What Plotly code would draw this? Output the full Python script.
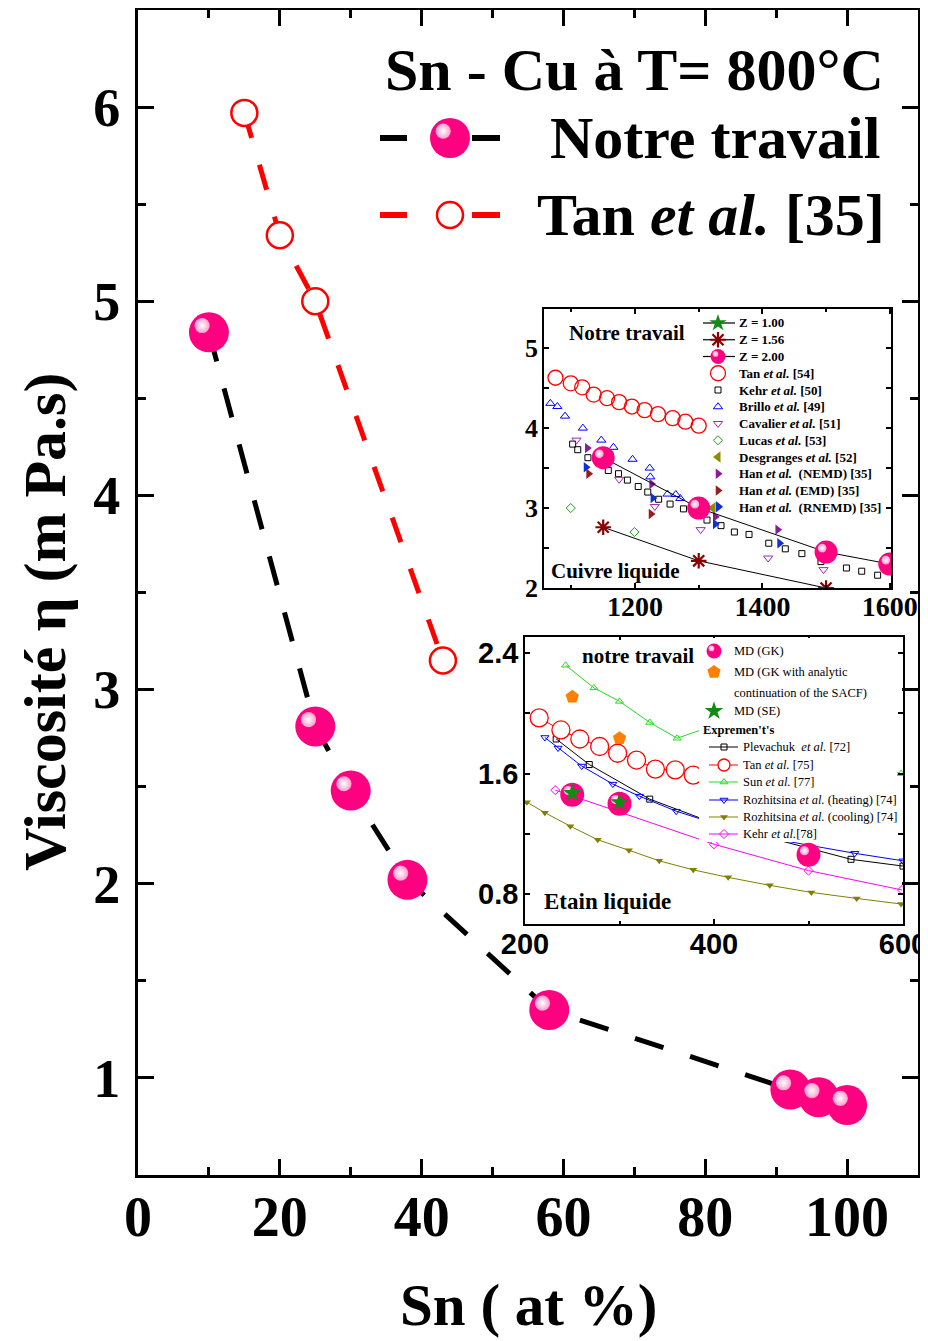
import plotly.graph_objects as go

W, H = 928, 1341
OFF = 8                      # browser body margin
FW, FH = W - OFF, H - OFF    # figure size
SERIF = "Liberation Serif"
SANS = "Liberation Sans"
PINK = "#FF0080"

# ---------------- main chart data (Sn - Cu, 800 °C)
sn_notre = [10, 25, 30, 38, 58, 92, 96, 100]
eta_notre = [4.84, 2.81, 2.48, 2.02, 1.35, 0.94, 0.90, 0.86]
sn_tan = [15, 20, 25, 43]
eta_tan = [5.97, 5.34, 5.00, 3.15]

# ---------------- inset 1 : liquid copper
cu_z2_T = [1150, 1300, 1500, 1600]
cu_z2_v = [3.63, 3.00, 2.45, 2.30]
cu_z156_T = [1150, 1300, 1500]
cu_z156_v = [2.76, 2.34, 2.00]
cu_tan_T = [1075, 1099, 1117, 1135, 1156, 1175, 1195, 1215, 1236, 1259, 1279, 1300]
cu_tan_v = [4.63, 4.56, 4.51, 4.42, 4.375, 4.325, 4.27, 4.225, 4.175, 4.125, 4.08, 4.03]
cu_kehr_T = [1102, 1110, 1126, 1158, 1174, 1188, 1205, 1220, 1237, 1255, 1276, 1313,
             1335, 1356, 1379, 1410, 1436, 1462, 1492, 1532, 1556, 1581]
cu_kehr_v = [3.80, 3.73, 3.63, 3.47, 3.43, 3.35, 3.27, 3.20, 3.11, 3.05, 2.99, 2.85,
             2.78, 2.70, 2.67, 2.56, 2.49, 2.43, 2.33, 2.25, 2.21, 2.16]
cu_brillo_T = [1067, 1078, 1090, 1118, 1147, 1166, 1196, 1223, 1224, 1251, 1264, 1271]
cu_brillo_v = [4.31, 4.27, 4.15, 4.00, 3.85, 3.76, 3.61, 3.50, 3.39, 3.175, 3.17, 3.12]
cu_cav_T = [1108, 1175, 1231, 1303, 1409, 1496]
cu_cav_v = [3.85, 3.36, 3.02, 2.73, 2.375, 2.23]
cu_lucas_T = [1099, 1199]
cu_lucas_v = [3.00, 2.70]
cu_desg_T = [1322]
cu_desg_v = [3.00]
cu_nemd_T = [1125, 1226, 1326, 1424]
cu_nemd_v = [3.75, 3.30, 2.89, 2.73]
cu_emd_T = [1127, 1225]
cu_emd_v = [3.43, 2.925]
cu_rnemd_T = [1123, 1228, 1326, 1331, 1427]
cu_rnemd_v = [3.51, 3.125, 2.80, 3.02, 2.56]

# ---------------- inset 2 : liquid tin
sn_gk_T = [250, 300, 500]
sn_gk_v = [1.46, 1.40, 1.06]
sn_gka_T = [250, 300]
sn_gka_v = [2.11, 1.835]
sn_se_T = [250, 300]
sn_se_v = [1.47, 1.41]
sn_plev_T = [233, 268, 332, 400, 545, 600]
sn_plev_v = [1.83, 1.66, 1.43, 1.27, 1.03, 0.985]
sn_tan_T = [215, 238, 258, 279, 298, 318, 338, 359, 378]
sn_tan_v = [1.97, 1.89, 1.83, 1.78, 1.735, 1.69, 1.63, 1.625, 1.59]
sn_sun_T = [243, 273, 300, 332, 361, 400, 598]
sn_sun_v = [2.32, 2.17, 2.08, 1.94, 1.835, 1.92, 1.60]
sn_rh_T = [221, 235, 260, 293, 321, 360, 400, 450, 549, 600]
sn_rh_v = [1.84, 1.77, 1.65, 1.53, 1.45, 1.35, 1.27, 1.18, 1.07, 1.02]
sn_rc_T = [202, 221, 248, 277, 310, 342, 378, 415, 459, 503, 551, 598]
sn_rc_v = [1.41, 1.34, 1.25, 1.16, 1.09, 1.02, 0.96, 0.91, 0.857, 0.81, 0.77, 0.733]
sn_kehr_T = [232, 400, 500, 599]
sn_kehr_v = [1.49, 1.13, 0.955, 0.826]

# ---------------- layout geometry (screen pixels)
MAIN_X, MAIN_Y = (138, 918), (10, 1175)
CU_X, CU_Y = (544, 891), (309, 588)
SN_X, SN_Y = (525, 903), (637, 924)
MAIN_XR, MAIN_YR = [0, 110], [0.5, 6.5]
CU_XR, CU_YR = [1057, 1602], [2, 5.49]
SN_XR, SN_YR = [200, 600], [0.6, 2.508]


def px(x):
    return (x - OFF) / FW


def py(y):
    return 1 - (y - OFF) / FH


def dom_x(d):
    return [px(d[0]), px(d[1])]


def dom_y(d):
    return [py(d[1]), py(d[0])]


def upp(rng, dom):
    return (rng[1] - rng[0]) / (dom[1] - dom[0])


fig = go.Figure()


def tr(**kw):
    kw.setdefault("hoverinfo", "skip")
    kw.setdefault("showlegend", False)
    fig.add_trace(go.Scatter(**kw))


def sphere(xs, ys, xa, ya, size, ux, uy):
    o = size * 0.17
    tr(x=xs, y=ys, xaxis=xa, yaxis=ya, mode="markers",
       marker=dict(size=size, color=PINK, line=dict(width=0)))
    tr(x=[v - o * ux for v in xs], y=[v + o * uy for v in ys], xaxis=xa, yaxis=ya,
       mode="markers",
       marker=dict(size=size * 0.38, color="#FF9CCB", line=dict(width=0),
                   gradient=dict(type="radial", color="white")))


# ---------------- main traces
mux, muy = upp(MAIN_XR, MAIN_X), upp(MAIN_YR, MAIN_Y)
tr(x=sn_tan, y=eta_tan, xaxis="x", yaxis="y", mode="lines+markers",
   line=dict(color="red", width=5, dash="26px,28px"),
   marker=dict(symbol="circle", size=26, color="white", line=dict(color="red", width=2.5)))
tr(x=sn_notre, y=eta_notre, xaxis="x", yaxis="y", mode="lines",
   line=dict(color="black", width=5, dash="30px,28px"))
sphere(sn_notre, eta_notre, "x", "y", 40, mux, muy)

# ---------------- inset 1 traces
cux, cuy = upp(CU_XR, CU_X), upp(CU_YR, CU_Y)
CU = [
    ("tan", cu_tan_T, cu_tan_v, dict(symbol="circle-open", size=15, color="red", line=dict(width=1.3))),
    ("kehr", cu_kehr_T, cu_kehr_v, dict(symbol="square-open", size=6, color="black", line=dict(width=1))),
    ("brillo", cu_brillo_T, cu_brillo_v, dict(symbol="triangle-up-open", size=8, color="blue", line=dict(width=1))),
    ("cav", cu_cav_T, cu_cav_v, dict(symbol="triangle-down-open", size=8, color="#9A2AB0", line=dict(width=1))),
    ("lucas", cu_lucas_T, cu_lucas_v, dict(symbol="diamond-open", size=7, color="#1A9A1A", line=dict(width=1))),
    ("desg", cu_desg_T, cu_desg_v, dict(symbol="triangle-left", size=10, color="#8C8C00", line=dict(width=0))),
    ("nemd", cu_nemd_T, cu_nemd_v, dict(symbol="triangle-right", size=9, color="#8B1A9B", line=dict(width=0))),
    ("emd", cu_emd_T, cu_emd_v, dict(symbol="triangle-right", size=9, color="#9B1B1B", line=dict(width=0))),
    ("rnemd", cu_rnemd_T, cu_rnemd_v, dict(symbol="triangle-right", size=9, color="#1030D0", line=dict(width=0))),
]
for _, xs, ys, mk in CU:
    tr(x=xs, y=ys, xaxis="x2", yaxis="y2", mode="markers", marker=mk)
ASTER = dict(symbol="asterisk-open", size=13, color="#8B0000", line=dict(width=2.2, color="#8B0000"))
tr(x=cu_z156_T, y=cu_z156_v, xaxis="x2", yaxis="y2", mode="lines+markers",
   line=dict(color="black", width=1), marker=ASTER)
tr(x=cu_z2_T, y=cu_z2_v, xaxis="x2", yaxis="y2", mode="lines",
   line=dict(color="black", width=1))
sphere(cu_z2_T, cu_z2_v, "x2", "y2", 23, cux, cuy)

# ---------------- inset 2 traces
snx, sny = upp(SN_XR, SN_X), upp(SN_YR, SN_Y)
SN = [
    (sn_plev_T, sn_plev_v, "black", dict(symbol="square-open", size=6, color="black", line=dict(width=1))),
    (sn_tan_T, sn_tan_v, "red", dict(symbol="circle", size=18, color="white", line=dict(width=1.3, color="red"))),
    (sn_sun_T, sn_sun_v, "#22DD22", dict(symbol="triangle-up-open", size=7, color="#22DD22", line=dict(width=1))),
    (sn_rh_T, sn_rh_v, "blue", dict(symbol="triangle-down-open", size=7, color="blue", line=dict(width=1))),
    (sn_rc_T, sn_rc_v, "#808000", dict(symbol="triangle-down", size=7, color="#808000", line=dict(width=0))),
    (sn_kehr_T, sn_kehr_v, "#FF00FF", dict(symbol="diamond-open", size=7, color="#FF00FF", line=dict(width=1))),
]
for xs, ys, c, mk in SN:
    tr(x=xs, y=ys, xaxis="x3", yaxis="y3", mode="lines+markers",
       line=dict(color=c, width=1), marker=mk)
PENT = dict(symbol="pentagon", size=14, color="#FF8000", line=dict(width=0))
STAR = dict(symbol="star", size=14, color="#138A13", line=dict(width=0))
tr(x=sn_gka_T, y=sn_gka_v, xaxis="x3", yaxis="y3", mode="markers", marker=PENT)
sphere(sn_gk_T, sn_gk_v, "x3", "y3", 24, snx, sny)
tr(x=sn_se_T, y=sn_se_v, xaxis="x3", yaxis="y3", mode="markers", marker=STAR)

# ---------------- legend glyphs (pixel overlay axis)
L = dict(xaxis="x4", yaxis="y4")
# main legend
tr(x=[380, 407, None, 472, 500], y=[138, 138, None, 138, 138], mode="lines",
   line=dict(color="black", width=6), **L)
sphere([450], [138], "x4", "y4", 40, 1, -1)
tr(x=[380, 407, None, 472, 500], y=[215, 215, None, 215, 215], mode="lines",
   line=dict(color="red", width=6), **L)
tr(x=[450], y=[215], mode="markers",
   marker=dict(symbol="circle", size=26, color="white", line=dict(color="red", width=2.5)), **L)

# inset 1 legend
cu_names = ["Z = 1.00", "Z = 1.56", "Z = 2.00",
            "Tan <i>et al.</i> [54]", "Kehr <i>et al.</i> [50]", "Brillo <i>et al.</i> [49]",
            "Cavalier <i>et al.</i> [51]", "Lucas <i>et al.</i> [53]", "Desgranges <i>et al.</i> [52]",
            "Han <i>et al.</i>  (NEMD) [35]", "Han <i>et al.</i> (EMD) [35]", "Han <i>et al.</i>  (RNEMD) [35]"]
cu_ly = [323 + i * 16.75 for i in range(len(cu_names))]
for i in range(3):
    tr(x=[703, 735], y=[cu_ly[i]] * 2, mode="lines", line=dict(color="black", width=1.2), **L)
tr(x=[718], y=[cu_ly[0]], mode="markers", marker=dict(symbol="star", size=13, color="#138A13"), **L)
tr(x=[718], y=[cu_ly[1]], mode="markers", marker=ASTER, **L)
sphere([718], [cu_ly[2]], "x4", "y4", 15, 1, -1)
for i, (_, _, _, mk) in enumerate(CU):
    tr(x=[718], y=[cu_ly[i + 3]], mode="markers", marker=mk, **L)

# inset 2 legend (white box)
tr(x=[699, 897, 897, 699, 699], y=[638, 638, 842, 842, 638], mode="lines", fill="toself",
   fillcolor="white", line=dict(width=0, color="white"), **L)
sphere([714], [651], "x4", "y4", 15, 1, -1)
tr(x=[714], y=[672], mode="markers", marker=PENT, **L)
tr(x=[714], y=[711], mode="markers", marker=STAR, **L)
sn_names = ["Plevachuk  <i>et al.</i> [72]", "Tan <i>et al.</i> [75]", "Sun <i>et al.</i> [77]",
            "Rozhitsina <i>et al.</i> (heating) [74]", "Rozhitsina <i>et al.</i> (cooling) [74]",
            "Kehr <i>et al.</i>[78]"]
sn_ly = [747, 765, 782, 800, 817, 834]
for (xs, ys, c, mk), yy in zip(SN, sn_ly):
    mk2 = dict(mk)
    if mk2["symbol"] == "circle":
        mk2 = dict(mk2, size=12)
    tr(x=[709, 738], y=[yy, yy], mode="lines", line=dict(color=c, width=1), **L)
    tr(x=[724], y=[yy], mode="markers", marker=mk2, **L)

# ---------------- annotations
ann = []


def text(t, x, y, size, xanchor="left", bold=True, angle=0):
    ann.append(dict(text=(f"<b>{t}</b>" if bold else t), x=px(x), y=py(y), xref="paper", yref="paper",
                    xanchor=xanchor, yanchor="middle", showarrow=False, textangle=angle,
                    font=dict(family=SERIF, size=size, color="black")))


text("Sn - Cu à T= 800°C", 383, 70, 60)
text("Notre travail", 548, 138, 60)
text("Tan <i>et al.</i> [35]", 535, 215, 60)
text("Viscosité η (m Pa.s)", 45, 622, 60, xanchor="center", angle=-90)
text("Sn ( at %)", 528, 1305, 59, xanchor="center")
text("Notre travail", 627, 333, 21, xanchor="center")
text("Cuivre liquide", 615, 571, 21, xanchor="center")
text("notre travail", 638, 656, 21, xanchor="center")
text("Etain liquide", 607, 901, 23, xanchor="center")
for nm, yy in zip(cu_names, cu_ly):
    text(nm, 737, yy, 13)
text("MD (GK)", 732, 651, 12.5, bold=False)
text("MD (GK with analytic", 732, 672, 12.5, bold=False)
text("continuation of the SACF)", 732, 693, 12.5, bold=False)
text("MD (SE)", 732, 711, 12.5, bold=False)
text("Expremen't's", 701, 730, 12.5)
for nm, yy in zip(sn_names, sn_ly):
    text(nm, 741, yy, 12.5, bold=False)

# ---------------- axes
def axis(dom, rng, anchor, dtick, mdtick, size, lw, tl, mtl, tick0=None, standoff=None, family=SERIF):
    d = dict(domain=dom, range=rng, anchor=anchor, showgrid=False, zeroline=False,
             automargin=False,
             showline=True, linewidth=lw, linecolor="black", mirror="allticks",
             ticks="inside", ticklen=tl, tickwidth=lw, tickcolor="black", dtick=dtick,
             minor=dict(dtick=mdtick, ticks="inside", ticklen=mtl, tickwidth=lw, tickcolor="black",
                        showgrid=False),
             tickfont=dict(family=family, size=size, color="black", weight="bold"),
             fixedrange=True)
    if tick0 is not None:
        d["tick0"] = tick0
    if standoff is not None:
        d["ticklabelstandoff"] = standoff
    return d


fig.update_layout(
    template="none",
    width=FW, height=FH, margin=dict(l=0, r=0, t=0, b=0, autoexpand=False),
    paper_bgcolor="white", plot_bgcolor="rgba(0,0,0,0)", showlegend=False,
    font=dict(family=SERIF, color="black"),
    xaxis=axis(dom_x(MAIN_X), MAIN_XR, "y", 20, 10, 56, 3, 16, 8, standoff=-9),
    yaxis=axis(dom_y(MAIN_Y), MAIN_YR, "x", 1, 0.5, 54, 3, 16, 8, standoff=4),
    xaxis2=axis(dom_x(CU_X), CU_XR, "y2", 200, 100, 28, 1.5, 5, 3, tick0=1200, standoff=-7),
    yaxis2=axis(dom_y(CU_Y), CU_YR, "x2", 1, 0.5, 26, 1.5, 5, 5, tick0=2, standoff=-1),
    xaxis3=axis(dom_x(SN_X), SN_XR, "y3", 200, 100, 29, 1.5, 5, 3, tick0=200, standoff=-7,
                family=SANS),
    yaxis3=axis(dom_y(SN_Y), SN_YR, "x3", 0.8, 0.4, 29, 1.5, 5, 5, tick0=0.8, standoff=-1,
                family=SANS),
    xaxis4=dict(domain=[0, 1], range=[OFF, W], visible=False, anchor="y4", fixedrange=True,
                automargin=False),
    yaxis4=dict(domain=[0, 1], range=[H, OFF], visible=False, anchor="x4", fixedrange=True,
                automargin=False),
    annotations=ann,
)

fig.write_html("out.html")
